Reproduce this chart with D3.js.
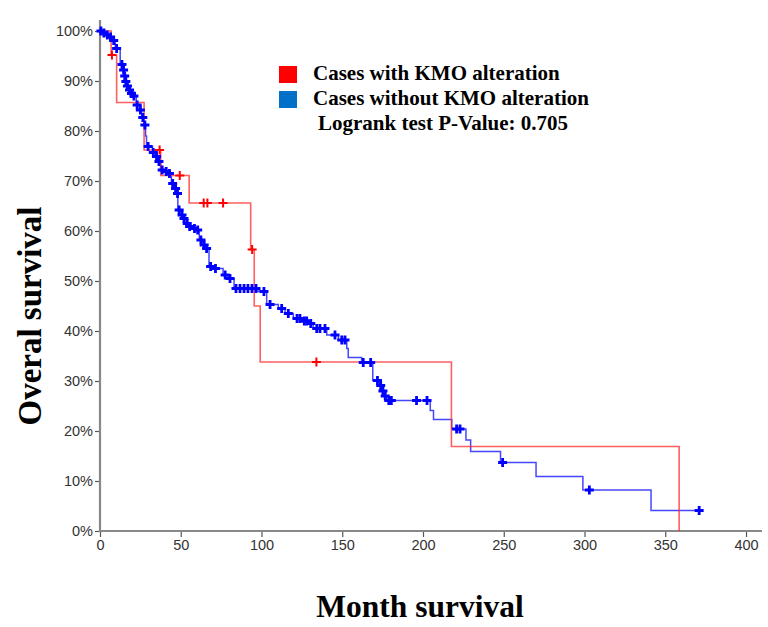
<!DOCTYPE html>
<html>
<head>
<meta charset="utf-8">
<script src="https://cdn.jsdelivr.net/npm/d3@7"></script>
<style>
  html, body { margin: 0; padding: 0; background: #fff; }
  svg { display: block; }
</style>
</head>
<body>
<svg id="chart" width="768" height="627"></svg>
<script>
// Kaplan-Meier estimates: month of each event and survival (%) right after it
const redDropMonths = [6.9, 10.3, 27.3, 37.6, 55.2, 93.3, 95.5, 99.2, 217.6, 358.6];
const redSurvival   = [95.2, 85.7, 76.2, 71.1, 65.6, 56.3, 45.0, 33.8, 16.9, 0];
const redCensored   = [7.4, 36.9, 49.4, 64.2, 66.5, 76.2, 94.2, 134.0];

const blueDropMonths = [1.5, 3.5, 5.5, 7.5, 9.5, 12.5, 14.2, 15.0, 15.6, 16.5,
  17.8, 19.0, 20.5, 22.5, 24.5, 25.8, 27.2, 28.2, 28.8, 32.5,
  34.5, 35.5, 37.5, 40.2, 42.3, 44.2, 46.2, 47.5, 48.2, 50.2,
  51.3, 53.3, 54.3, 57.5, 59.5, 61.5, 63.5, 65.5, 67.5, 70.5,
  76.2, 79.2, 83.0, 97.8, 103.2, 110.4, 114.6, 119.7, 125.0, 129.5,
  132.0, 140.4, 147.6, 152.8, 153.7, 162.0, 168.9, 173.0, 174.5, 176.0,
  177.3, 204.5, 206.5, 217.8, 226.6, 229.5, 248.0, 270.0, 299.0, 341.2];
const blueSurvival = [99.6, 99.2, 98.8, 98.1, 96.5, 93.3, 92.2, 91.0, 89.9, 89.0,
  88.2, 87.5, 87.0, 85.2, 84.2, 82.7, 81.2, 79.0, 76.9, 75.7,
  74.9, 73.9, 72.2, 71.9, 71.5, 69.5, 68.5, 67.5, 64.2, 63.2,
  62.5, 61.5, 60.9, 60.5, 60.2, 58.2, 57.2, 56.5, 52.9, 52.5,
  51.2, 50.5, 48.5, 47.9, 45.3, 44.5, 43.5, 42.5, 42.0, 41.5,
  40.5, 39.2, 38.2, 36.5, 34.7, 33.7, 30.1, 29.1, 28.0, 27.0,
  26.1, 24.1, 22.3, 20.4, 18.2, 15.9, 13.7, 10.9, 8.2, 4.1];
const blueCensored = [0.6, 2.4, 4.5, 6.5, 8.5, 10.3, 13.6, 14.6, 15.3, 16.0,
  17.0, 18.3, 19.5, 21.0, 23.0, 25.0, 26.5, 27.8, 29.8, 33.0,
  35.0, 36.5, 38.5, 41.0, 43.0, 45.0, 46.8, 48.0, 49.0, 50.8,
  52.0, 54.0, 55.5, 58.5, 60.5, 62.5, 64.5, 66.0, 68.5, 71.5,
  77.5, 80.5, 84.2, 86.7, 89.2, 91.6, 94.1, 96.6, 101.5, 105.3,
  112.5, 116.6, 122.0, 123.8, 126.5, 128.0, 130.5, 134.2, 136.2, 139.3,
  145.5, 149.7, 151.7, 163.0, 167.6, 171.8, 173.8, 175.2, 176.6, 178.8,
  180.4, 196.0, 202.5, 220.8, 222.9, 249.3, 303.0, 371.0];

const xTicks = [0, 50, 100, 150, 200, 250, 300, 350, 400];
const yTicks = [0, 10, 20, 30, 40, 50, 60, 70, 80, 90, 100];

const legendLabels = ["Cases with KMO alteration", "Cases without KMO alteration"];
const legendColors = ["#ff0000", "#0070c8"];
const pValueText = "Logrank test P-Value: 0.705";
const xTitle = "Month survival";
const yTitle = "Overal survival";

const svg = d3.select("#chart");
const x = d3.scaleLinear().domain([0, 400]).range([100, 746]);
const y = d3.scaleLinear().domain([0, 100]).range([531, 31]);

// survival curve as step points, starting at 100%
function stepPoints(months, surv, endMonth) {
  const pts = [[0, 100]];
  months.forEach((m, i) => pts.push([m, surv[i]]));
  if (endMonth != null && endMonth > months[months.length - 1]) {
    pts.push([endMonth, surv[surv.length - 1]]);
  }
  return pts;
}
function survivalAt(months, surv, t) {
  let s = 100;
  months.forEach((m, i) => { if (m <= t) s = surv[i]; });
  return s;
}

// axes
const axisColor = "#888";
const xAxis = d3.axisBottom(x).tickValues(xTicks).tickSize(6).tickSizeOuter(0).tickPadding(3);
const yAxis = d3.axisLeft(y).tickValues(yTicks).tickSize(5).tickSizeOuter(0).tickPadding(2)
  .tickFormat(d => d + "%");

const gx = svg.append("g").attr("transform", "translate(0,531)").call(xAxis);
const gy = svg.append("g").attr("transform", "translate(100,0)").call(yAxis);
[gx, gy].forEach(g => {
  g.select(".domain").remove();
  g.selectAll(".tick line").attr("stroke", "#555").attr("stroke-width", 1.2);
  g.selectAll(".tick text")
    .attr("fill", "#333")
    .style("font-family", "'Liberation Sans', Arial, sans-serif")
    .style("font-size", "14.5px");
});
svg.append("line").attr("x1", 100).attr("x2", 100).attr("y1", 20).attr("y2", 532)
  .attr("stroke", axisColor).attr("stroke-width", 2.2);
svg.append("line").attr("x1", 99).attr("x2", 762).attr("y1", 531).attr("y2", 531)
  .attr("stroke", axisColor).attr("stroke-width", 2.2);

const line = d3.line()
  .x(d => x(d[0]))
  .y(d => y(d[1]))
  .curve(d3.curveStepAfter);

const bluePts = stepPoints(blueDropMonths, blueSurvival, d3.max(blueCensored));
const redPts = stepPoints(redDropMonths, redSurvival, null);

svg.append("path").attr("d", line(bluePts))
  .attr("fill", "none").attr("stroke", "#2626ff").attr("stroke-opacity", 0.85)
  .attr("stroke-width", 1.5);
svg.append("path").attr("d", line(redPts))
  .attr("fill", "none").attr("stroke", "#ff2a2a").attr("stroke-opacity", 0.75)
  .attr("stroke-width", 1.6);

// censoring marks
function crosses(months, surv, times, color, r, w) {
  const pts = times.map(t => [t, survivalAt(months, surv, t)]);
  const g = svg.append("g").attr("stroke", color).attr("stroke-width", w);
  g.selectAll("path").data(pts).join("path")
    .attr("d", d => {
      const cx = x(d[0]), cy = y(d[1]);
      return `M${cx - r},${cy}H${cx + r}M${cx},${cy - r}V${cy + r}`;
    });
}
crosses(blueDropMonths, blueSurvival, blueCensored, "#0000ff", 4.5, 2.8);
crosses(redDropMonths, redSurvival, redCensored, "#ff0000", 4.5, 2);

// legend
const serif = "'Liberation Serif', 'Times New Roman', serif";
const leg = svg.append("g");
legendLabels.forEach((lab, i) => {
  leg.append("rect").attr("x", 279).attr("y", 66 + i * 25).attr("width", 18).attr("height", 17)
    .attr("fill", legendColors[i]);
  leg.append("text").attr("x", 313).attr("y", 80 + i * 25).text(lab)
    .attr("fill", "#000").style("font-family", serif).style("font-weight", "bold")
    .style("font-size", "21px");
});
leg.append("text").attr("x", 318).attr("y", 130).text(pValueText)
  .attr("fill", "#000").style("font-family", serif).style("font-weight", "bold")
  .style("font-size", "21px");

// axis titles
svg.append("text").attr("x", 420).attr("y", 617).attr("text-anchor", "middle")
  .text(xTitle).style("font-family", serif).style("font-weight", "bold")
  .style("font-size", "31.5px").attr("fill", "#000");
svg.append("text").attr("transform", "translate(41,316) rotate(-90)").attr("text-anchor", "middle")
  .text(yTitle).style("font-family", serif).style("font-weight", "bold")
  .style("font-size", "33px").attr("fill", "#000");
</script>
</body>
</html>
